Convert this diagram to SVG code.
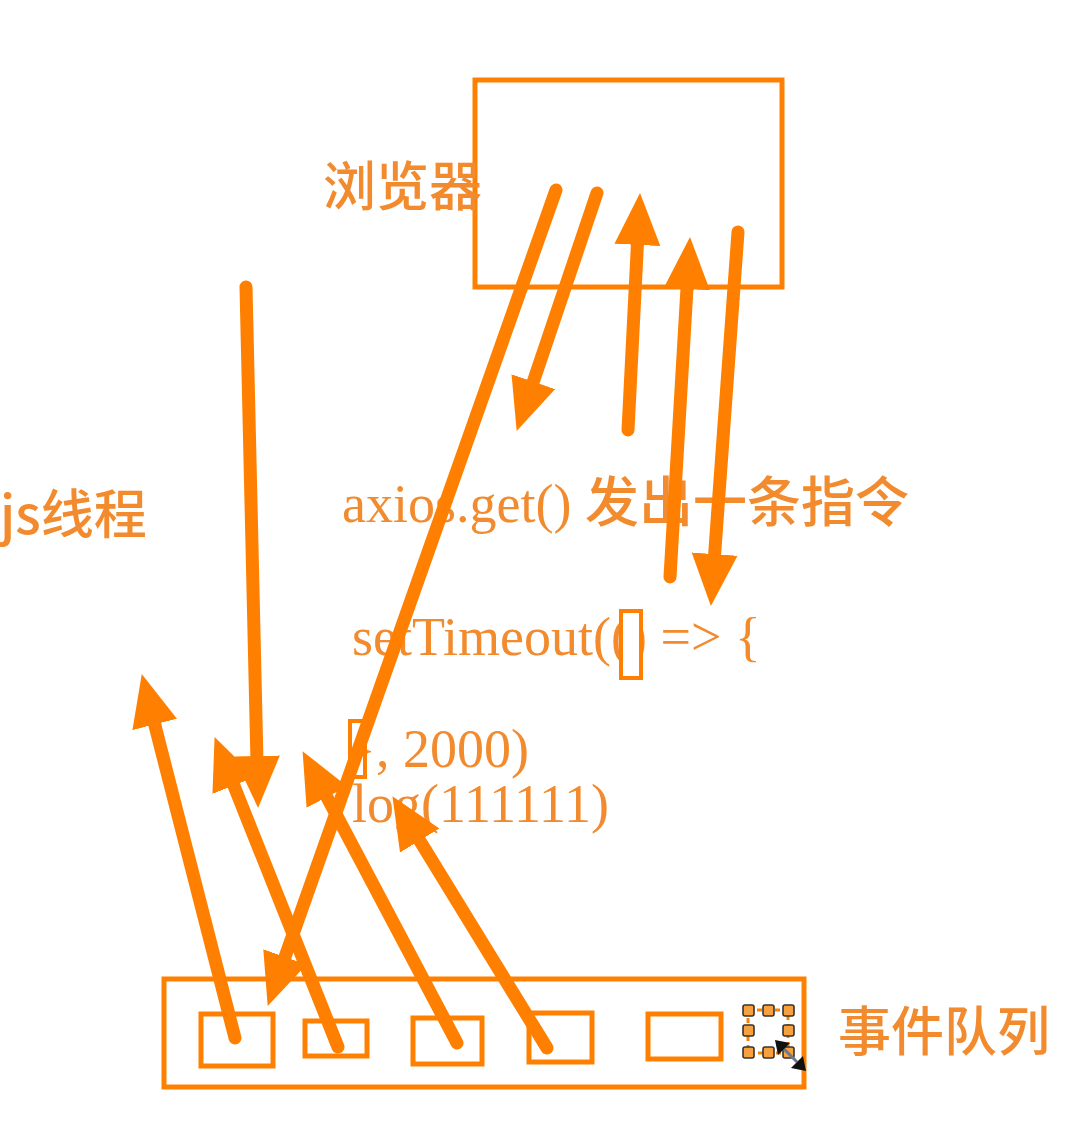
<svg xmlns="http://www.w3.org/2000/svg" width="1084" height="1128" viewBox="0 0 1084 1128">
<style>
.box{fill:none;stroke:#FF8000;stroke-width:5}
.sbox{fill:#fff;stroke:#FF8000;stroke-width:4}
.arr{fill:none;stroke:#FF8000;stroke-width:13;stroke-linecap:round}
.cjk{font-family:'Noto Sans CJK SC','Noto Sans',sans-serif;font-size:53px;font-weight:500;fill:#F28A2E}
.code{font-family:'Liberation Serif','Noto Sans CJK SC',serif;font-size:54px;fill:#F28A2E}
.hdl{fill:#F7A040;stroke:#333;stroke-width:1.6}
</style>
<defs>
<marker id="ah" markerUnits="userSpaceOnUse" markerWidth="52" markerHeight="46" refX="6" refY="23" orient="auto" viewBox="0 0 52 46">
<path d="M0,0 L52,23 L0,46 z" fill="#FF8000"/>
</marker>
</defs>
<rect width="1084" height="1128" fill="#fff"/>

<g id="browser">
<rect class="box" x="475" y="80" width="307" height="207"/>
<text class="cjk" x="323" y="206">浏览器</text>
</g>

<g id="js-thread">
<text class="cjk" x="0" y="534">js线程</text>
</g>

<g id="code">
<text class="code" x="342" y="522">axios.get() <tspan font-weight="500">发出一条指令</tspan></text>
<text class="code" x="352" y="655">setTimeout(() =&gt; {</text>
<text class="code" x="350" y="767">}, 2000)</text>
<text class="code" x="352" y="822">log(111111)</text>
<rect class="sbox" x="621" y="611" width="20" height="67"/>
<rect class="sbox" x="350" y="721" width="15" height="56"/>
</g>

<g id="event-queue">
<rect class="box" x="164" y="979" width="640" height="108"/>
<rect class="box" x="201" y="1014" width="72" height="52"/>
<rect class="box" x="305" y="1021" width="62" height="35"/>
<rect class="box" x="413" y="1018" width="69" height="46"/>
<rect class="box" x="529" y="1013" width="63" height="49"/>
<rect class="box" x="648" y="1014" width="73" height="45"/>
<text class="cjk" x="838" y="1051">事件队列</text>
</g>

<g id="selection">
<path d="M748,1010 H788 V1053 H748 Z" fill="none" stroke="#FF8000" stroke-width="3" stroke-dasharray="5,4"/>
<rect class="hdl" x="743" y="1005" width="11" height="11" rx="2"/>
<rect class="hdl" x="763" y="1005" width="11" height="11" rx="2"/>
<rect class="hdl" x="783" y="1005" width="11" height="11" rx="2"/>
<rect class="hdl" x="743" y="1025" width="11" height="11" rx="2"/>
<rect class="hdl" x="783" y="1025" width="11" height="11" rx="2"/>
<rect class="hdl" x="743" y="1047" width="11" height="11" rx="2"/>
<rect class="hdl" x="763" y="1047" width="11" height="11" rx="2"/>
<rect class="hdl" x="783" y="1047" width="11" height="11" rx="2"/>
<line x1="783" y1="1048" x2="797" y2="1062" stroke="#6a7a8a" stroke-width="3"/>
<path d="M775,1040 L790,1043 L778,1055 Z" fill="#111"/>
<path d="M806,1071 L791,1068 L803,1056 Z" fill="#111"/>
</g>

<g id="connectors">
<line class="arr" x1="556" y1="190" x2="283" y2="962.6" marker-end="url(#ah)"/>
<line class="arr" x1="597" y1="193" x2="531.4" y2="387.4" marker-end="url(#ah)"/>
<line class="arr" x1="628" y1="430" x2="637.7" y2="238.9" marker-end="url(#ah)"/>
<line class="arr" x1="670" y1="577" x2="687.3" y2="282.9" marker-end="url(#ah)"/>
<line class="arr" x1="738" y1="232" x2="714.2" y2="560.1" marker-end="url(#ah)"/>
<line class="arr" x1="246" y1="287" x2="257" y2="762" marker-end="url(#ah)"/>
<line class="arr" x1="235" y1="1038" x2="153.2" y2="718.6" marker-end="url(#ah)"/>
<line class="arr" x1="338" y1="1047" x2="231.6" y2="779.8" marker-end="url(#ah)"/>
<line class="arr" x1="457" y1="1043" x2="324.1" y2="791.8" marker-end="url(#ah)"/>
<line class="arr" x1="547" y1="1048" x2="416.5" y2="835.4" marker-end="url(#ah)"/>
</g>
</svg>
